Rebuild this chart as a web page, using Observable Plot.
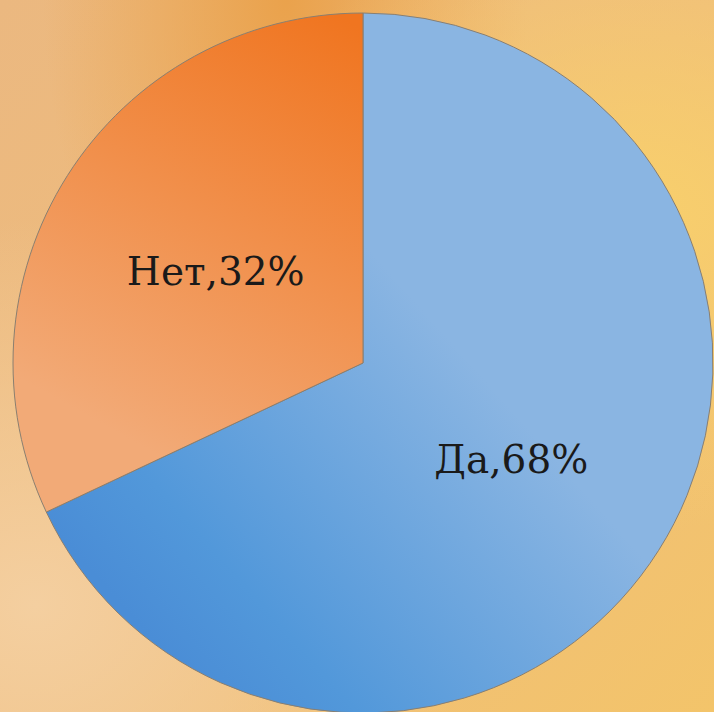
<!DOCTYPE html>
<html>
<head>
<meta charset="utf-8">
<script src="https://cdn.jsdelivr.net/npm/d3@7"></script>
<script src="https://cdn.jsdelivr.net/npm/@observablehq/plot@0.6"></script>
<style>
  html, body { margin: 0; padding: 0; background: #efbb78; }
  #chart svg { display: block; }
  #chart svg text { font-family: "DejaVu Serif", "Liberation Serif", serif !important; }
</style>
</head>
<body>
<div id="chart"></div>
<script>
const categories = ["Да", "Нет"];
const values = [68, 32];
const labels = ["Да,68%", "Нет,32%"];

const data = categories.map((c, i) => ({category: c, value: values[i], label: labels[i]}));
const pie = d3.pie().value(d => d.value).sort(null)(data);
// label positions at half radius on the slice bisector (in data units, radius = 1)
pie.forEach(a => {
  const mid = (a.startAngle + a.endAngle) / 2;
  a.data.lx = 0.5 * Math.sin(mid);
  a.data.ly = 0.5 * Math.cos(mid);
});

function pieMark(index, scales) {
  const cx = scales.x(0), cy = scales.y(0);
  const r = scales.x(1) - cx;
  const g = d3.create("svg:g");
  const defs = g.append("defs");
  const gb = defs.append("linearGradient").attr("id", "gBlue").attr("gradientUnits", "userSpaceOnUse")
    .attr("x1", -0.55 * r).attr("y1", 0.85 * r).attr("x2", 0.35 * r).attr("y2", 0.05 * r);
  gb.append("stop").attr("offset", 0).attr("stop-color", "#4a8dd6");
  gb.append("stop").attr("offset", 0.25).attr("stop-color", "#5298da");
  gb.append("stop").attr("offset", 1).attr("stop-color", "#8ab5e2");
  const go = defs.append("linearGradient").attr("id", "gOrange").attr("gradientUnits", "userSpaceOnUse")
    .attr("x1", -0.05 * r).attr("y1", -0.98 * r).attr("x2", -0.7 * r).attr("y2", 0.2 * r);
  go.append("stop").attr("offset", 0).attr("stop-color", "#f07520");
  go.append("stop").attr("offset", 1).attr("stop-color", "#f2aa77");
  const arc = d3.arc().innerRadius(0).outerRadius(r);
  const fills = {"Да": "url(#gBlue)", "Нет": "url(#gOrange)"};
  g.attr("transform", `translate(${cx},${cy})`)
    .selectAll("path.slice").data(pie).join("path")
    .attr("class", "slice")
    .attr("d", arc)
    .attr("fill", d => fills[d.data.category])
    .attr("stroke", "#8a7f70")
    .attr("stroke-width", 1);
  return g.node();
}

const chart = Plot.plot({
  width: 714,
  height: 712,
  margin: 0,
  x: {domain: [-1, 1], range: [13, 713], axis: null},
  y: {domain: [-1, 1], range: [713, 13], axis: null},
  style: {
    background: "radial-gradient(ellipse at 90% 30%, #f8cf6c 0%, rgba(248,207,108,0) 45%), radial-gradient(ellipse at 40% 0%, #eaa24c 0%, rgba(234,162,76,0) 40%), radial-gradient(ellipse at 5% 85%, #f4cfa0 0%, rgba(244,207,160,0) 45%), linear-gradient(135deg, #ebb880 0%, #efbd7c 50%, #f3c46a 100%)",
    overflow: "visible"
  },
  marks: [
    pieMark,
    Plot.text(pie.map(a => a.data), {
      x: "lx",
      y: "ly",
      text: "label",
      fontSize: 39,
      fontFamily: "DejaVu Serif",
      fill: "#1a1a1a",
      dy: 3
    })
  ]
});
document.getElementById("chart").appendChild(chart);
</script>
</body>
</html>
